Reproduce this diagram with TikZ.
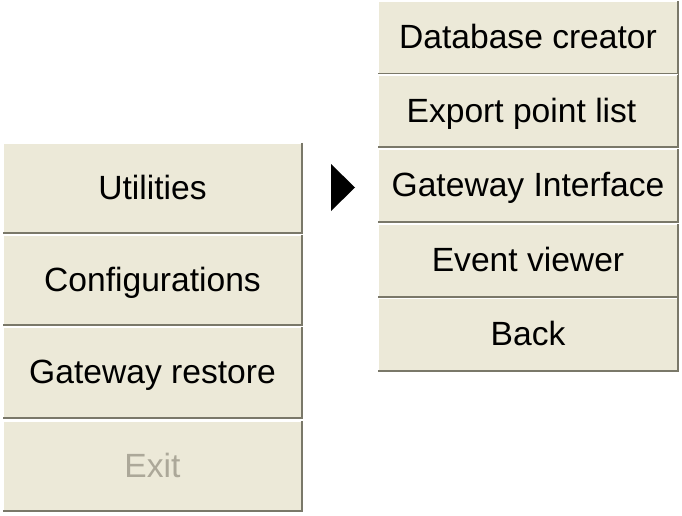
\documentclass[tikz,border=0pt]{standalone}
\usepackage{fontspec}
\usepackage{tikz}
\usepackage{xcolor}
\setmainfont{Liberation Sans}
\definecolor{btnface}{HTML}{ECE9D8}
\definecolor{btnshadow}{HTML}{7A7869}
\definecolor{btngray}{HTML}{ACA899}
\tikzset{
  btn/.style={fill=btnface, inner sep=0pt, text height=22pt, text depth=0pt, font=\fontsize{33.6}{40}\selectfont},
  leftbtn/.style={btn, minimum width=299pt, minimum height=90pt},
  rightbtn/.style={btn, minimum width=300pt, minimum height=72pt}
}
\begin{document}
\begin{tikzpicture}[x=1pt,y=-1pt]
                \fill[white] (0,0) rectangle (682,516);
                \useasboundingbox (0,0) rectangle (682,516);
                % left menu
                \foreach \Name/\Y/\Label in {util/188/Utilities, conf/280/Configurations, rest/372.5/Gateway restore, exit/466/{\textcolor{btngray}{Exit}}}
                {
                \node[leftbtn] (\Name) at (152.5,\Y) {\Label};
                \draw[white,line width=1.5pt] (\Name.south west) -- (\Name.north west) -- (\Name.north east);
                \draw[btnshadow,line width=2pt] (\Name.north east) -- (\Name.south east) -- (\Name.south west);
                }
                % sub menu
                \foreach \Name/\Y/\Label in {dbc/37.5/Database creator, exp/111/\hspace*{-13pt}Export point list, gwi/185.5/Gateway Interface, evv/260.5/Event viewer, back/334.5/Back}
                {
                \node[rightbtn] (\Name) at (528,\Y) {\Label};
                \draw[white,line width=1.5pt] (\Name.south west) -- (\Name.north west) -- (\Name.north east);
                \draw[btnshadow,line width=2pt] (\Name.north east) -- (\Name.south east) -- (\Name.south west);
                }
                % arrow
                \fill[black] (331,164) -- (355,187.5) -- (331,211) -- cycle;
            \end{tikzpicture}
\end{document}
